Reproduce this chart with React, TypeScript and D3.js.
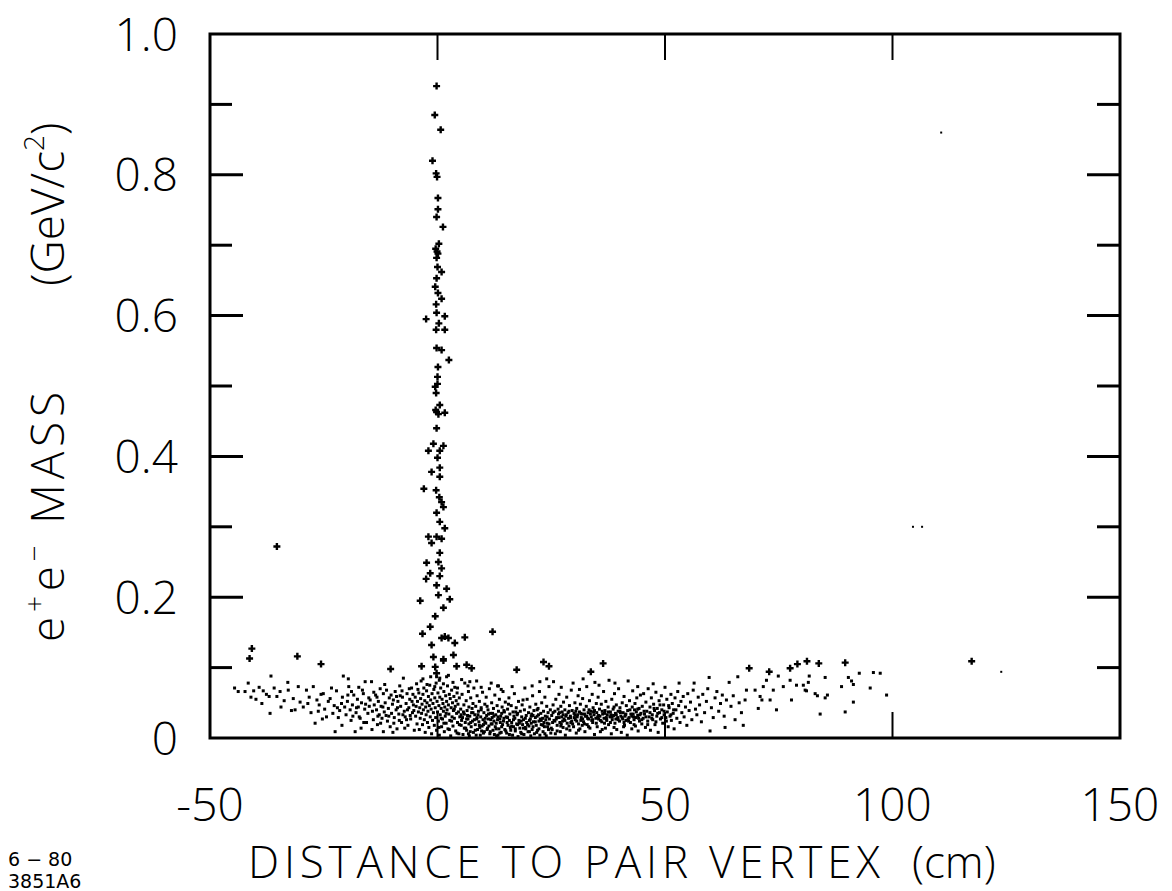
import React from "react";
import * as d3 from "d3";

type Pt = [number, number];

const xDomain = [-50, 150];
const yDomain = [0, 1];
const xTickValues = [-50, 0, 50, 100, 150];
const xTickLabels = ["-50", "0", "50", "100", "150"];
const xInnerTicks = [0, 50, 100];
const yMajorTicks = [0, 0.2, 0.4, 0.6, 0.8, 1.0];
const yTickLabels = ["0", "0.2", "0.4", "0.6", "0.8", "1.0"];
const yMinorTicks = [0.1, 0.3, 0.5, 0.7, 0.9];

// vertical spike near zero distance (drawn as crosses)
const spikePoints: Pt[] = [
  [-0.2, 0.926], [-0.6, 0.885], [0.7, 0.864], [-1.1, 0.82], [-0.3, 0.802], [-0.1, 0.797],
  [0.1, 0.767], [0.1, 0.751], [-0.2, 0.74], [1.2, 0.726], [0.3, 0.702], [-0.4, 0.695],
  [-0.1, 0.691], [0.1, 0.688], [-0.2, 0.682], [0.0, 0.669], [0.9, 0.662], [-0.2, 0.653],
  [-0.5, 0.641], [0.1, 0.632], [0.9, 0.624], [-0.3, 0.616], [-0.2, 0.604], [1.6, 0.599],
  [-2.5, 0.595], [0.3, 0.589], [-0.3, 0.58], [1.6, 0.58], [-0.2, 0.554], [0.9, 0.551],
  [2.5, 0.537], [0.1, 0.527], [0.0, 0.513], [-0.5, 0.499], [-0.3, 0.49], [0.0, 0.503],
  [0.5, 0.473], [-0.2, 0.463], [0.2, 0.46], [-0.4, 0.466], [1.6, 0.462], [-0.2, 0.44],
  [-0.9, 0.418], [1.3, 0.415], [-2.0, 0.408], [0.5, 0.408], [0.0, 0.398], [0.5, 0.384],
  [-1.3, 0.378], [0.5, 0.371], [-3.0, 0.354], [-0.3, 0.352], [0.4, 0.342], [0.9, 0.335],
  [1.3, 0.328], [-0.2, 0.32], [0.5, 0.307], [1.6, 0.298], [-2.0, 0.286], [-0.2, 0.286],
  [0.9, 0.283], [-1.3, 0.277], [0.5, 0.263], [-2.4, 0.249], [0.2, 0.25], [0.9, 0.241],
  [-1.6, 0.234], [-2.5, 0.226], [0.5, 0.23], [-0.2, 0.217], [2.0, 0.212], [0.2, 0.203],
  [-3.8, 0.195], [2.7, 0.197], [1.3, 0.185], [-0.5, 0.173], [-1.6, 0.158], [-3.3, 0.148],
  [0.9, 0.142], [2.4, 0.142], [1.6, 0.144], [3.8, 0.135], [-1.3, 0.132], [6.0, 0.143],
  [-0.9, 0.115], [1.3, 0.112], [3.5, 0.118], [-3.5, 0.102], [-0.5, 0.101], [4.2, 0.102],
  [6.4, 0.104], [7.5, 0.099], [-0.2, 0.092], [1.3, 0.11],
];

// isolated events above the low-mass band (crosses)
const isolatedPoints: Pt[] = [
  [-35.3, 0.272], [-40.8, 0.127], [-41.3, 0.113], [-30.8, 0.116], [-25.6, 0.105],
  [12.1, 0.151], [17.4, 0.097], [23.3, 0.108], [24.5, 0.102], [36.4, 0.106], [33.7, 0.094],
  [68.5, 0.099], [77.5, 0.099], [79.1, 0.105], [81.2, 0.109], [83.8, 0.106], [89.6, 0.107],
  [72.9, 0.094], [117.4, 0.109], [-10.3, 0.098],
];

// faint single dots far from the bulk
const strayPoints: Pt[] = [
  [104.5, 0.3], [106.5, 0.3], [123.9, 0.094], [110.7, 0.86],
];

// low-mass band, left side
const bandLeft: Pt[] = [
  [-44.6, 0.071], [-43.8, 0.066], [-42.3, 0.066], [-41.6, 0.078], [-41.0, 0.058], [-40.4, 0.067],
  [-39.9, 0.055], [-39.2, 0.072], [-38.6, 0.049], [-38.3, 0.067], [-37.6, 0.062], [-37.0, 0.059],
  [-36.8, 0.035], [-36.6, 0.088], [-35.9, 0.071], [-35.3, 0.059], [-34.6, 0.066], [-34.4, 0.044],
  [-33.7, 0.053], [-32.9, 0.079], [-32.8, 0.068], [-32.1, 0.039], [-31.7, 0.056], [-31.3, 0.04],
  [-30.6, 0.073], [-30.2, 0.051],
  [-29.5, 0.044], [-28.8, 0.068], [-28.2, 0.058], [-27.8, 0.036], [-27.3, 0.073], [-26.9, 0.021],
  [-26.5, 0.054], [-26.0, 0.047], [-25.6, 0.062], [-25.1, 0.063], [-24.8, 0.041], [-24.4, 0.03],
  [-24.0, 0.052], [-23.6, 0.056], [-23.0, 0.035], [-22.7, 0.046], [-22.5, 0.009], [-22.2, 0.067],
  [-21.8, 0.029], [-21.5, 0.039], [-21.1, 0.049], [-20.9, 0.058], [-20.7, 0.088], [-20.4, 0.044],
  [-20.1, 0.033], [-19.8, 0.052], [-19.6, 0.084], [-19.5, 0.073], [-19.2, 0.04], [-19.0, 0.025],
  [-18.7, 0.047], [-18.4, 0.061], [-18.1, 0.009], [-17.9, 0.036], [-17.6, 0.055], [-17.4, 0.044],
  [-17.2, 0.03], [-17.0, 0.028], [-16.7, 0.05], [-16.5, 0.068], [-16.3, 0.063], [-16.0, 0.041],
  [-15.9, 0.08], [-15.6, 0.022], [-15.3, 0.035], [-15.1, 0.057],
  [-28.5, 0.049], [-26.2, 0.038], [-25.3, 0.027], [-23.3, 0.071], [-22.0, 0.043], [-21.0, 0.018],
  [-18.9, 0.066], [-17.8, 0.043], [-16.8, 0.014], [-15.8, 0.048],
  [-14.8, 0.054], [-14.5, 0.08], [-14.3, 0.038], [-14.1, 0.026], [-13.9, 0.047], [-13.6, 0.061],
  [-13.4, 0.04], [-13.2, 0.019], [-13.0, 0.052], [-12.8, 0.033], [-12.6, 0.07], [-12.4, 0.045],
  [-12.2, 0.028], [-11.9, 0.063], [-11.9, 0.009], [-11.7, 0.037], [-11.5, 0.05], [-11.2, 0.068],
  [-11.0, 0.024], [-10.8, 0.042], [-10.6, 0.057], [-10.4, 0.016], [-10.1, 0.035], [-9.9, 0.048],
  [-9.7, 0.054], [-9.5, 0.029], [-9.3, 0.066], [-9.1, 0.04], [-8.9, 0.013], [-8.7, 0.052],
  [-8.5, 0.034], [-8.3, 0.074], [-8.1, 0.045], [-7.9, 0.022], [-7.7, 0.058], [-7.5, 0.085],
  [-7.3, 0.038], [-7.1, 0.03], [-6.9, 0.049], [-6.7, 0.063], [-6.5, 0.018], [-6.3, 0.043],
  [-6.1, 0.055], [-5.9, 0.027], [-5.7, 0.071], [-5.5, 0.036], [-5.3, 0.047], [-5.1, 0.011],
  [-14.0, 0.065], [-13.1, 0.031], [-12.0, 0.044], [-11.3, 0.032], [-10.2, 0.061], [-9.6, 0.021],
  [-8.8, 0.043], [-8.2, 0.06], [-7.6, 0.033], [-6.8, 0.026], [-6.2, 0.07], [-5.6, 0.052], [-5.2, 0.039],
  [-19.7, 0.061], [-18.6, 0.031], [-17.3, 0.072], [-16.2, 0.022], [-15.0, 0.045], [-14.4, 0.012],
  [-13.3, 0.058], [-12.5, 0.021], [-11.6, 0.076], [-10.7, 0.031], [-9.8, 0.008], [-9.0, 0.059],
  [-8.4, 0.025], [-7.8, 0.067], [-7.2, 0.014], [-6.6, 0.04], [-6.0, 0.032], [-5.4, 0.062],
];

// low-mass band, around zero
const bandCenter: Pt[] = [
  [-4.9, 0.058], [-4.8, 0.031], [-4.7, 0.045], [-4.6, 0.077], [-4.5, 0.02], [-4.4, 0.052],
  [-4.2, 0.037], [-4.1, 0.064], [-4.0, 0.012], [-3.9, 0.043], [-3.8, 0.028], [-3.7, 0.056],
  [-3.6, 0.081], [-3.5, 0.035], [-3.4, 0.048], [-3.3, 0.019], [-3.2, 0.062], [-3.1, 0.04],
  [-3.0, 0.071], [-2.9, 0.026], [-2.8, 0.053], [-2.7, 0.008], [-2.6, 0.044], [-2.5, 0.033],
  [-2.4, 0.067], [-2.3, 0.05], [-2.2, 0.022], [-2.1, 0.038], [-2.0, 0.059], [-1.9, 0.015],
  [-1.8, 0.046], [-1.7, 0.075], [-1.6, 0.03], [-1.5, 0.054], [-1.4, 0.041], [-1.3, 0.006],
  [-1.2, 0.063], [-1.1, 0.025], [-1.0, 0.049], [-0.9, 0.036], [-0.8, 0.069], [-0.7, 0.018],
  [-0.6, 0.057], [-0.5, 0.043], [-0.4, 0.029], [-0.3, 0.078], [-0.2, 0.011], [-0.1, 0.052],
  [0.0, 0.037], [0.1, 0.064], [0.2, 0.024], [0.3, 0.046], [0.4, 0.004], [0.5, 0.058],
  [0.6, 0.033], [0.7, 0.071], [0.8, 0.042], [0.9, 0.016], [1.0, 0.055], [1.1, 0.027],
  [1.2, 0.049], [1.3, 0.038], [1.4, 0.066], [1.5, 0.009], [1.6, 0.044], [1.7, 0.031],
  [1.8, 0.06], [1.9, 0.021], [2.0, 0.052], [2.1, 0.04], [2.2, 0.074], [2.3, 0.013],
  [2.4, 0.047], [2.5, 0.034], [2.6, 0.062], [2.7, 0.025], [2.8, 0.056], [2.9, 0.003],
  [3.0, 0.043], [3.1, 0.068], [3.2, 0.03], [3.3, 0.05], [3.4, 0.017], [3.5, 0.039],
  [3.6, 0.059], [3.7, 0.028], [3.8, 0.072], [3.9, 0.045], [4.0, 0.01], [4.1, 0.053],
  [4.2, 0.035], [4.3, 0.064], [4.4, 0.022], [4.5, 0.048], [4.6, 0.037], [4.7, 0.006],
  [4.8, 0.057], [4.9, 0.03], [-0.2, 0.087], [0.5, 0.085], [2.0, 0.087],
  [5.1, 0.041], [5.2, 0.018], [5.4, 0.062], [5.5, 0.029], [5.6, 0.005], [5.8, 0.047],
  [5.9, 0.034], [6.0, 0.078], [6.1, 0.022], [6.3, 0.053], [6.4, 0.011], [6.5, 0.039],
  [6.7, 0.027], [6.8, 0.066], [6.9, 0.044], [7.0, 0.003], [7.1, 0.031], [7.3, 0.057],
  [7.4, 0.016], [7.5, 0.036], [7.7, 0.024], [7.8, 0.049], [7.9, 0.008], [8.0, 0.071],
  [8.2, 0.033], [8.3, 0.019], [8.4, 0.045], [8.6, 0.027], [8.7, 0.06], [8.8, 0.012],
  [9.0, 0.038], [9.1, 0.023], [9.2, 0.052], [9.4, 0.004], [9.5, 0.03], [9.6, 0.043],
  [9.8, 0.017], [9.9, 0.065], [10.0, 0.026], [10.2, 0.036], [10.3, 0.009], [10.4, 0.048],
  [10.6, 0.021], [10.7, 0.058], [10.8, 0.032], [11.0, 0.014], [11.1, 0.04], [11.2, 0.027],
  [11.4, 0.07], [11.5, 0.006], [11.6, 0.035], [11.8, 0.02], [11.9, 0.05], [12.0, 0.029],
  [12.2, 0.011], [12.3, 0.042], [12.4, 0.024], [12.6, 0.061], [12.7, 0.016], [12.8, 0.033],
  [13.0, 0.003], [13.1, 0.046], [13.2, 0.026], [13.4, 0.038], [13.5, 0.013], [13.6, 0.055],
  [13.8, 0.022], [13.9, 0.031], [14.0, 0.008], [14.2, 0.044], [14.3, 0.019], [14.4, 0.066],
  [14.6, 0.028], [14.7, 0.037], [14.8, 0.012], [14.9, 0.051],
  [5.3, 0.025], [6.2, 0.014], [7.2, 0.009], [8.1, 0.026], [8.9, 0.033], [9.7, 0.01],
  [10.5, 0.028], [11.3, 0.017], [12.1, 0.035], [12.9, 0.021], [13.7, 0.007], [14.5, 0.024],
  [6.6, 0.032], [7.6, 0.042], [9.3, 0.015], [10.9, 0.045], [12.5, 0.005], [13.3, 0.03],
  [14.1, 0.035], [5.7, 0.037], [6.9, 0.02], [8.5, 0.004], [10.1, 0.019], [11.7, 0.026],
  [7.1, 0.08], [13.4, 0.074], [19.2, 0.071], [13.2, 0.074],
  [-4.3, 0.069], [-3.2, 0.084], [-2.3, 0.076], [-1.5, 0.087], [-0.6, 0.073], [0.4, 0.082],
  [1.3, 0.077], [2.4, 0.089], [3.4, 0.079], [4.4, 0.071], [5.3, 0.083], [6.7, 0.074],
  [8.6, 0.081], [9.6, 0.072], [11.8, 0.078], [14.0, 0.069],
];

// extra density in the heaviest part of the band
const bandDense: Pt[] = [
  [0.3, 0.015], [0.8, 0.028], [1.4, 0.021], [1.9, 0.035], [2.6, 0.012], [3.1, 0.024],
  [3.7, 0.041], [4.3, 0.007], [4.8, 0.019], [5.2, 0.033], [5.9, 0.014], [6.4, 0.027],
  [6.8, 0.006], [7.3, 0.022], [7.8, 0.036], [8.3, 0.011], [8.7, 0.029], [9.2, 0.018],
  [9.6, 0.04], [10.1, 0.007], [10.4, 0.023], [10.9, 0.012], [11.2, 0.034], [11.6, 0.009],
  [12.0, 0.02], [12.4, 0.031], [12.9, 0.013], [13.3, 0.004], [13.7, 0.027], [14.1, 0.016],
  [14.6, 0.039], [15.0, 0.01], [15.4, 0.029], [15.8, 0.005], [16.3, 0.017], [16.7, 0.026],
  [17.1, 0.013], [17.6, 0.035], [18.0, 0.021], [18.5, 0.006], [18.9, 0.014], [19.3, 0.028],
  [19.8, 0.019], [20.2, 0.009], [20.6, 0.031], [21.0, 0.016], [21.5, 0.023], [21.9, 0.04],
  [22.3, 0.013], [22.8, 0.025], [23.2, 0.018], [23.6, 0.006], [24.1, 0.03], [24.5, 0.02],
  [25.0, 0.014], [25.4, 0.036], [25.8, 0.024], [26.3, 0.01], [26.7, 0.029], [27.1, 0.017],
  [27.6, 0.033], [28.0, 0.025], [28.4, 0.013], [28.9, 0.038], [29.3, 0.029], [29.7, 0.02],
  [30.2, 0.033], [30.6, 0.024], [31.0, 0.011], [31.5, 0.035], [31.9, 0.027], [32.3, 0.02],
  [32.8, 0.031], [33.2, 0.016], [33.6, 0.034], [34.1, 0.026], [34.5, 0.039], [34.9, 0.021],
  [35.4, 0.032], [35.8, 0.025], [36.2, 0.012], [36.7, 0.035], [37.1, 0.027], [37.5, 0.037],
  [38.0, 0.022], [38.4, 0.03], [38.8, 0.015], [39.3, 0.033], [39.7, 0.026], [40.1, 0.038],
  [40.6, 0.029], [41.0, 0.022], [41.4, 0.034], [41.9, 0.027], [42.3, 0.04], [42.7, 0.031],
  [43.2, 0.019], [43.6, 0.029], [44.0, 0.041], [44.5, 0.033], [44.9, 0.026], [45.4, 0.038],
  [45.8, 0.03], [46.2, 0.019], [46.7, 0.036], [47.1, 0.028], [47.6, 0.042], [48.0, 0.023],
  [48.4, 0.035], [48.9, 0.047], [49.3, 0.029], [49.8, 0.038], [50.3, 0.024], [50.8, 0.046],
  [51.3, 0.033], [51.9, 0.04],
  [16.4, 0.073], [20.8, 0.074], [22.5, 0.08], [27.2, 0.072], [31.2, 0.069], [35.5, 0.075],
  [39.0, 0.078], [44.0, 0.073], [47.4, 0.077],
];

// low-mass band, 15 to 35 cm
const bandMiddle: Pt[] = [
  [15.1, 0.03], [15.2, 0.007], [15.4, 0.041], [15.5, 0.018], [15.7, 0.057], [15.8, 0.025],
  [15.9, 0.034], [16.1, 0.011], [16.2, 0.046], [16.3, 0.022], [16.5, 0.004], [16.6, 0.037],
  [16.7, 0.016], [16.9, 0.063], [17.0, 0.028], [17.1, 0.01], [17.3, 0.043], [17.4, 0.02],
  [17.5, 0.033], [17.7, 0.002], [17.8, 0.052], [17.9, 0.025], [18.1, 0.014], [18.2, 0.038],
  [18.3, 0.008], [18.5, 0.03], [18.6, 0.047], [18.7, 0.019], [18.9, 0.026], [19.0, 0.005],
  [19.1, 0.04], [19.3, 0.015], [19.5, 0.032], [19.6, 0.022], [19.7, 0.055], [19.9, 0.009],
  [20.0, 0.036], [20.1, 0.017], [20.3, 0.044], [20.4, 0.027], [20.5, 0.003], [20.7, 0.034],
  [20.8, 0.012], [20.9, 0.06], [21.1, 0.023], [21.2, 0.039], [21.3, 0.006], [21.5, 0.029],
  [21.6, 0.048], [21.7, 0.018], [21.9, 0.031], [22.0, 0.011], [22.1, 0.042], [22.3, 0.024],
  [22.4, 0.066], [22.5, 0.004], [22.7, 0.035], [22.8, 0.019], [22.9, 0.05], [23.1, 0.028],
  [23.2, 0.009], [23.3, 0.038], [23.5, 0.016], [23.6, 0.058], [23.7, 0.031], [23.9, 0.003],
  [24.0, 0.045], [24.0, 0.084], [24.1, 0.021], [24.3, 0.036], [24.4, 0.012], [24.5, 0.073],
  [24.6, 0.027], [24.8, 0.04], [24.9, 0.007],
  [15.3, 0.022], [16.0, 0.015], [16.8, 0.031], [17.6, 0.019], [18.4, 0.024], [19.4, 0.013],
  [20.2, 0.025], [21.0, 0.032], [21.8, 0.008], [22.6, 0.027], [23.4, 0.022], [24.2, 0.016],
  [15.6, 0.048], [17.2, 0.037], [18.8, 0.054], [20.6, 0.021], [22.2, 0.033], [23.8, 0.026],
  [25.1, 0.032], [25.2, 0.012], [25.4, 0.047], [25.5, 0.08], [25.6, 0.025], [25.8, 0.038],
  [25.9, 0.006], [26.0, 0.055], [26.2, 0.029], [26.3, 0.018], [26.5, 0.041], [26.6, 0.034],
  [26.7, 0.062], [26.9, 0.022], [27.0, 0.009], [27.1, 0.045], [27.3, 0.03], [27.4, 0.037],
  [27.6, 0.015], [27.7, 0.051], [27.8, 0.027], [28.0, 0.04], [28.1, 0.004], [28.3, 0.033],
  [28.4, 0.058], [28.5, 0.021], [28.7, 0.036], [28.8, 0.028], [29.0, 0.046], [29.1, 0.011],
  [29.2, 0.031], [29.4, 0.068], [29.5, 0.024], [29.6, 0.039], [29.8, 0.078], [29.9, 0.016],
  [30.0, 0.035], [30.2, 0.05], [30.3, 0.026], [30.5, 0.007], [30.6, 0.042], [30.7, 0.03],
  [30.9, 0.06], [31.0, 0.02], [31.2, 0.037], [31.3, 0.013], [31.4, 0.048], [31.6, 0.029],
  [31.7, 0.034], [31.9, 0.056], [32.0, 0.084], [32.1, 0.023], [32.2, 0.04], [32.4, 0.009],
  [32.5, 0.031], [32.7, 0.045], [32.8, 0.073], [32.9, 0.019], [33.1, 0.036], [33.2, 0.027],
  [33.4, 0.053], [33.5, 0.014], [33.7, 0.038], [33.8, 0.03], [34.0, 0.062], [34.1, 0.022],
  [34.2, 0.043], [34.4, 0.033], [34.5, 0.005], [34.6, 0.079], [34.8, 0.028], [34.9, 0.049],
  [25.3, 0.022], [26.1, 0.027], [26.8, 0.036], [27.5, 0.024], [28.2, 0.031], [29.3, 0.022],
  [30.1, 0.029], [30.8, 0.033], [31.5, 0.025], [32.3, 0.034], [33.0, 0.028], [33.9, 0.025],
  [34.3, 0.037], [27.2, 0.02], [28.9, 0.017], [30.4, 0.038], [31.8, 0.018], [33.3, 0.04],
];

// low-mass band, 35 to 68 cm
const bandRight: Pt[] = [
  [35.0, 0.036], [35.1, 0.016], [35.3, 0.058], [35.4, 0.027], [35.6, 0.041], [35.7, 0.031],
  [35.8, 0.009], [36.0, 0.048], [36.1, 0.023], [36.3, 0.034], [36.5, 0.066], [36.6, 0.028],
  [36.8, 0.039], [36.9, 0.014], [37.0, 0.052], [37.2, 0.025], [37.3, 0.033], [37.5, 0.044],
  [37.6, 0.019], [37.7, 0.082], [37.9, 0.03], [38.0, 0.037], [38.2, 0.006], [38.3, 0.055],
  [38.4, 0.026], [38.6, 0.041], [38.7, 0.032], [38.9, 0.063], [39.0, 0.021], [39.1, 0.035],
  [39.3, 0.047], [39.4, 0.012], [39.6, 0.029], [39.7, 0.038], [39.8, 0.07], [40.0, 0.024],
  [40.1, 0.043], [40.3, 0.031], [40.4, 0.008], [40.6, 0.05], [40.7, 0.027], [40.8, 0.036],
  [41.0, 0.059], [41.1, 0.018], [41.3, 0.033], [41.4, 0.025], [41.5, 0.046], [41.7, 0.004],
  [41.8, 0.039], [41.9, 0.081], [42.1, 0.029], [42.2, 0.053], [42.4, 0.022], [42.5, 0.034],
  [42.7, 0.013], [42.8, 0.044], [42.9, 0.067], [43.1, 0.03], [43.2, 0.026], [43.4, 0.049],
  [43.5, 0.017], [43.7, 0.037], [43.8, 0.057], [44.0, 0.032], [44.1, 0.01], [44.3, 0.042],
  [44.4, 0.024], [44.6, 0.061], [44.7, 0.035], [44.9, 0.02],
  [35.2, 0.03], [36.2, 0.038], [37.1, 0.029], [38.1, 0.033], [39.2, 0.027], [40.2, 0.036],
  [41.2, 0.031], [42.0, 0.024], [43.0, 0.034], [44.2, 0.028], [36.7, 0.021], [38.8, 0.044],
  [40.9, 0.016], [43.3, 0.04],
  [45.0, 0.045], [45.2, 0.028], [45.3, 0.063], [45.5, 0.034], [45.7, 0.015], [45.8, 0.051],
  [46.0, 0.038], [46.2, 0.024], [46.3, 0.07], [46.5, 0.03], [46.7, 0.044], [46.8, 0.011],
  [47.0, 0.057], [47.2, 0.033], [47.3, 0.026], [47.5, 0.048], [47.7, 0.039], [47.8, 0.019],
  [48.0, 0.065], [48.2, 0.031], [48.3, 0.042], [48.5, 0.008], [48.7, 0.053], [48.8, 0.036],
  [49.0, 0.027], [49.2, 0.06], [49.3, 0.04], [49.5, 0.021], [49.7, 0.047], [49.8, 0.033],
  [50.0, 0.072], [50.2, 0.029], [50.4, 0.055], [50.5, 0.037], [50.7, 0.016], [50.9, 0.043],
  [51.1, 0.031], [51.3, 0.062], [51.4, 0.025], [51.6, 0.049], [51.8, 0.035], [52.0, 0.013],
  [52.2, 0.057], [52.4, 0.04], [52.6, 0.028], [52.8, 0.066], [53.0, 0.046], [53.1, 0.078],
  [53.3, 0.022], [53.5, 0.052], [53.7, 0.036], [54.0, 0.059], [54.2, 0.03], [54.5, 0.044],
  [54.8, 0.018], [55.0, 0.063], [55.3, 0.039], [55.6, 0.051], [55.9, 0.026], [56.2, 0.068],
  [56.4, 0.078], [56.7, 0.041], [57.0, 0.033], [57.3, 0.058],
  [57.6, 0.047], [58.0, 0.023], [58.3, 0.062], [58.7, 0.036], [59.1, 0.052], [59.4, 0.07],
  [59.7, 0.086], [59.9, 0.01], [60.2, 0.043], [60.6, 0.029], [61.0, 0.057], [61.4, 0.066],
  [61.8, 0.038], [62.2, 0.049], [62.6, 0.061], [63.0, 0.031], [63.2, 0.015], [63.5, 0.054],
  [64.1, 0.079], [64.5, 0.045], [65.0, 0.06], [65.4, 0.026], [66.0, 0.087], [66.3, 0.05],
  [66.8, 0.036], [67.2, 0.018], [67.6, 0.054], [67.9, 0.068],
];

// sparse tail beyond 68 cm
const tailPoints: Pt[] = [
  [69.8, 0.068], [70.5, 0.042], [70.9, 0.059], [71.3, 0.054], [71.6, 0.073], [72.3, 0.082],
  [73.1, 0.054], [73.8, 0.068], [74.5, 0.04], [74.9, 0.088], [76.0, 0.073], [77.5, 0.082],
  [77.8, 0.054], [78.9, 0.075], [80.4, 0.075], [80.8, 0.068], [81.1, 0.067], [81.5, 0.079],
  [81.7, 0.088], [83.0, 0.063], [83.5, 0.06], [84.1, 0.034], [85.2, 0.086], [85.2, 0.057],
  [85.7, 0.061], [88.8, 0.073], [89.6, 0.037], [90.3, 0.086], [91.0, 0.081], [91.4, 0.076],
  [91.4, 0.051], [92.7, 0.092], [95.1, 0.071], [95.8, 0.093], [97.3, 0.092], [98.7, 0.061],
];

const FONT = "'Open Sans', 'DejaVu Sans', sans-serif";

export default function App() {
  const W = 1172;
  const H = 891;
  const x = d3.scaleLinear().domain(xDomain).range([210, 1120]);
  const y = d3.scaleLinear().domain(yDomain).range([738, 34]);
  const [x0, x1] = x.range();
  const [yb, yt] = y.range();

  const crossPath = (pts: Pt[], r: number) =>
    pts
      .map(([a, b]) => {
        const px = x(a);
        const py = y(b);
        return `M${px - r},${py}h${2 * r}M${px},${py - r}v${2 * r}`;
      })
      .join("");

  const bandAll = [...bandLeft, ...bandCenter, ...bandDense, ...bandMiddle, ...bandRight, ...tailPoints];

  return (
    <svg
      width={W}
      height={H}
      viewBox={`0 0 ${W} ${H}`}
      style={{ position: "absolute", left: 0, top: 0, background: "#fff" }}
    >
      <rect x={0} y={0} width={W} height={H} fill="#fff" />
      {/* frame */}
      <rect x={x0} y={yt} width={x1 - x0} height={yb - yt} fill="none" stroke="#000" strokeWidth={3} />
      {yMajorTicks.slice(1, -1).map((t) => (
        <g key={"M" + t}>
          <line x1={x0} x2={x0 + 33} y1={y(t)} y2={y(t)} stroke="#000" strokeWidth={3} />
          <line x1={x1} x2={x1 - 33} y1={y(t)} y2={y(t)} stroke="#000" strokeWidth={3} />
        </g>
      ))}
      {yMinorTicks.map((t) => (
        <g key={"m" + t}>
          <line x1={x0} x2={x0 + 22} y1={y(t)} y2={y(t)} stroke="#000" strokeWidth={3} />
          <line x1={x1} x2={x1 - 23} y1={y(t)} y2={y(t)} stroke="#000" strokeWidth={3} />
        </g>
      ))}
      {xInnerTicks.map((t) => (
        <g key={"x" + t}>
          <line x1={x(t)} x2={x(t)} y1={yt} y2={yt + 26} stroke="#000" strokeWidth={2} />
          <line x1={x(t)} x2={x(t)} y1={yb} y2={yb - 26} stroke="#000" strokeWidth={2} />
        </g>
      ))}
      {/* data */}
      <g fill="#000">
        {bandAll.map(([a, b], i) => (
          <rect key={i} x={x(a) - 1.5} y={y(b) - 1.5} width={3} height={3} />
        ))}
        {strayPoints.map(([a, b], i) => (
          <rect key={"s" + i} x={x(a) - 1} y={y(b) - 1} width={2} height={2} />
        ))}
      </g>
      <path d={crossPath(spikePoints, 3.5)} stroke="#000" strokeWidth={2.4} fill="none" />
      <path d={crossPath(isolatedPoints, 3.5)} stroke="#000" strokeWidth={2.4} fill="none" />
      {/* y tick labels */}
      <g fontFamily={FONT} fontWeight={300} fontSize={46} fill="#000" textAnchor="end">
        {yMajorTicks.map((t, i) => (
          <text key={t} x={178} y={y(t)} dy="0.36em">
            {yTickLabels[i]}
          </text>
        ))}
      </g>
      {/* x tick labels */}
      <g fontFamily={FONT} fontWeight={300} fontSize={46} fill="#000" textAnchor="middle">
        {xTickValues.map((t, i) => (
          <text key={t} x={x(t)} y={821}>
            {xTickLabels[i]}
          </text>
        ))}
      </g>
      {/* x title */}
      <g fontFamily={FONT} fontWeight={300} fontSize={44} fill="#000">
        <text x={248} y={878} textLength={632} lengthAdjust="spacing">
          DISTANCE TO PAIR VERTEX
        </text>
        <text x={912} y={878}>
          (cm)
        </text>
      </g>
      {/* y title */}
      <g fontFamily={FONT} fontWeight={300} fontSize={46} fill="#000">
        <text transform="translate(64,642) rotate(-90)" textLength={250} lengthAdjust="spacing">
          e<tspan fontSize={28} dy={-20}>+</tspan>
          <tspan dy={20}>e</tspan>
          <tspan fontSize={28} dy={-20}>−</tspan>
          <tspan dy={20}>{"  MASS"}</tspan>
        </text>
        <text transform="translate(64,286) rotate(-90)">
          (GeV/c<tspan fontSize={28} dy={-20}>2</tspan>
          <tspan dy={20}>)</tspan>
        </text>
      </g>
      {/* plate id */}
      <g fontFamily="'DejaVu Sans', sans-serif" fontSize={19} fill="#000">
        <text x={8} y={866}>6 − 80</text>
        <text x={8} y={888}>3851A6</text>
      </g>
    </svg>
  );
}
